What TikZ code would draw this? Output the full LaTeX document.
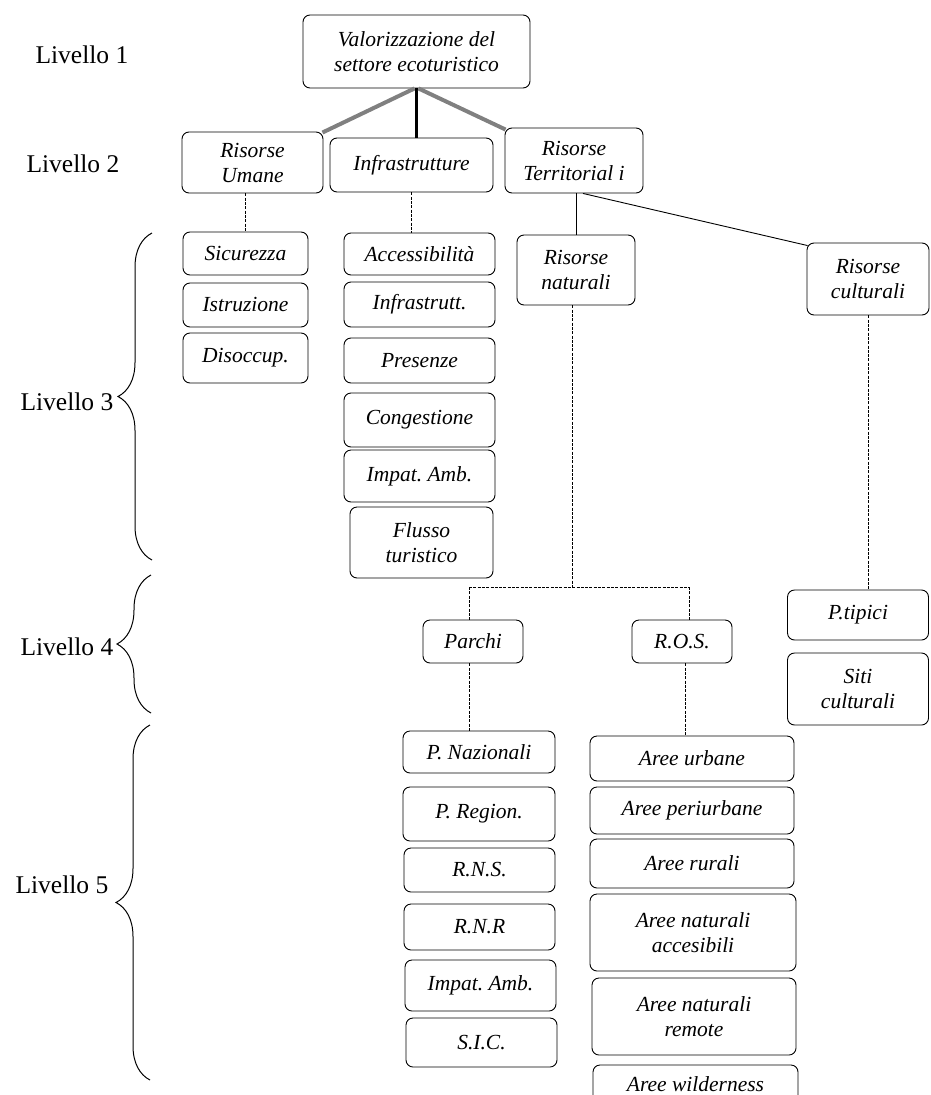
\documentclass[tikz,border=0pt]{standalone}
\usepackage{fontspec}
\setmainfont{Liberation Serif}
\usetikzlibrary{decorations.pathreplacing,calc}
\frenchspacing
\begin{document}
\begin{tikzpicture}[x=1pt,y=-1pt,
  box/.style={draw, rounded corners=7pt, line width=0.9pt, align=center,
    font=\fontsize{21.5}{25}\selectfont\itshape, inner sep=2pt},
  lbl/.style={anchor=base west, font=\fontsize{25.5}{30}\selectfont},
  dsh/.style={line width=0.8pt, dash pattern=on 3pt off 1.3pt},
  brc/.style={decorate, decoration={brace, amplitude=34pt}, line width=1pt},
  gline/.style={line width=4pt, black!50},
  bline/.style={line width=3pt, black},
  sline/.style={line width=0.9pt}]
\useasboundingbox (0,0) rectangle (931,1095);
\clip (0,0) rectangle (931,1095);
% level labels
\node[lbl] (l1) at (32,63) {Livello 1};
\node[lbl] (l2) at (23,172) {Livello 2};
\node[lbl] (l3) at (17,410) {Livello 3};
\node[lbl] (l4) at (17,655) {Livello 4};
\node[lbl] (l5) at (12,893) {Livello 5};
% braces
\coordinate (b3a) at (152,560); \coordinate (b3b) at (152,233);
\coordinate (b4a) at (151,713); \coordinate (b4b) at (151,575);
\coordinate (b5a) at (150,1080); \coordinate (b5b) at (150,725);
\draw[brc] (b3a) -- (b3b);
\draw[brc] (b4a) -- (b4b);
\draw[brc] (b5a) -- (b5b);
% level 1
\node[box, minimum width=227pt, minimum height=73pt] (top) at (416.5,51.5) {Valorizzazione del\\settore ecoturistico};
% level 2
\node[box, minimum width=141pt, minimum height=61pt] (umane) at (252.5,162.5) {Risorse\\Umane};
\node[box, minimum width=163pt, minimum height=54pt] (infra) at (411.5,165) {Infrastrutture};
\node[box, minimum width=138pt, minimum height=65pt] (terr) at (574,160.5) {Risorse\\Territorial i};
% level 3
\node[box, minimum width=125pt, minimum height=43pt] (sic) at (245.5,253.5) {Sicurezza};
\node[box, minimum width=125pt, minimum height=44pt] (istr) at (245.5,305) {Istruzione};
\node[box, minimum width=125pt, minimum height=50pt] (disocc) at (245.5,358) {Disoccup.};
\node[box, minimum width=151pt, minimum height=42pt] (acc) at (419.5,254) {Accessibilità};
\node[box, minimum width=151pt, minimum height=45pt] (infr2) at (419.5,304.5) {Infrastrutt.};
\node[box, minimum width=151pt, minimum height=45pt] (pres) at (419.5,360.5) {Presenze};
\node[box, minimum width=151pt, minimum height=54pt] (cong) at (419.5,420) {Congestione};
\node[box, minimum width=151pt, minimum height=52pt] (imp1) at (419.5,476) {Impat. Amb.};
\node[box, minimum width=143pt, minimum height=71pt] (flusso) at (421.5,542.5) {Flusso\\turistico};
\node[box, minimum width=118pt, minimum height=70pt] (nat) at (576,270) {Risorse\\naturali};
\node[box, minimum width=122pt, minimum height=72pt] (cult) at (868,279) {Risorse\\culturali};
% level 4
\node[box, minimum width=100pt, minimum height=43pt] (parchi) at (473,641.5) {Parchi};
\node[box, minimum width=100pt, minimum height=43pt] (ros) at (682,641.5) {R.O.S.};
\node[box, minimum width=141pt, minimum height=50pt] (ptip) at (858,615) {P.tipici};
\node[box, minimum width=141pt, minimum height=72pt] (siti) at (858,689) {Siti\\culturali};
% level 5
\node[box, minimum width=152pt, minimum height=42pt] (pnaz) at (479,752) {P. Nazionali};
\node[box, minimum width=152pt, minimum height=54pt] (preg) at (479,814) {P. Region.};
\node[box, minimum width=151pt, minimum height=44pt] (rns) at (479.5,870) {R.N.S.};
\node[box, minimum width=151pt, minimum height=46pt] (rnr) at (479.5,927) {R.N.R};
\node[box, minimum width=151pt, minimum height=51pt] (imp2) at (480.5,985.5) {Impat. Amb.};
\node[box, minimum width=151pt, minimum height=49pt] (sic2) at (481.5,1042.5) {S.I.C.};
\node[box, minimum width=204pt, minimum height=45pt] (urb) at (692,758.5) {Aree urbane};
\node[box, minimum width=204pt, minimum height=47pt] (peri) at (692,810.5) {Aree periurbane};
\node[box, minimum width=204pt, minimum height=49pt] (rur) at (692,863.5) {Aree rurali};
\node[box, minimum width=206pt, minimum height=77pt] (acces) at (693,932.5) {Aree naturali\\accesibili};
\node[box, minimum width=204pt, minimum height=77pt] (remote) at (694,1016.5) {Aree naturali\\remote};
\node[box, minimum width=205pt, minimum height=38pt] (wild) at (695.5,1084) {Aree wilderness};
% connectors level 1 -> 2
\draw[gline] ([xshift=-2pt]top.south) -- ([xshift=-1pt,yshift=-1pt]umane.north east);
\draw[bline] (top.south) -- (top.south |- infra.north);
\draw[gline] ([xshift=2pt]top.south) -- ([xshift=1pt,yshift=-2pt]terr.north west);
% level 2 -> 3
\draw[dsh] (sic.north |- umane.south) -- (sic.north);
\draw[dsh] (infra.south) -- (infra.south |- acc.north);
\draw[sline] (nat.north |- terr.south) -- (nat.north);
\draw[sline] ([xshift=9pt]terr.south) -- ([xshift=1pt,yshift=-3pt]cult.north west);
% level 3 -> 4
\coordinate (split) at (572,587);
\coordinate (hl) at (469,587);
\coordinate (hr) at (689,587);
\draw[dsh] (nat.south -| split) -- (split);
\draw[dsh] (hl) -- (hr);
\draw[dsh] (hl) -- (hl |- parchi.north);
\draw[dsh] (hr) -- (hr |- ros.north);
\draw[dsh] (cult.south) -- (cult.south |- ptip.north);
% level 4 -> 5
\draw[dsh] (parchi.south -| hl) -- (hl |- pnaz.north);
\draw[dsh] ([xshift=3pt]ros.south) -- ([xshift=3pt]ros.south |- urb.north);
\end{tikzpicture}
\end{document}
